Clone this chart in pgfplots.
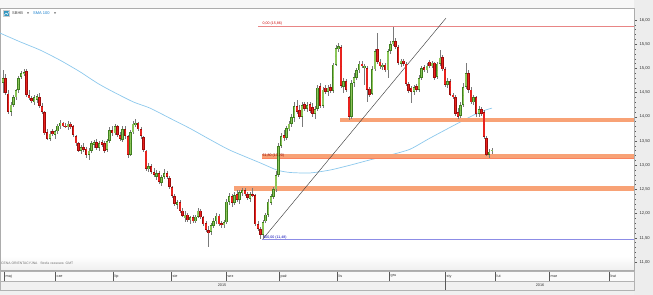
\documentclass[border=0pt]{standalone}
\usepackage{fontspec}
\setmainfont{Liberation Sans}
\usepackage{pgfplots}
\usepackage{pgfplotstable}
\pgfplotsset{compat=1.18}
\definecolor{upfill}{HTML}{8CC65A}
\definecolor{upedge}{HTML}{3F7F1F}
\definecolor{dnfill}{HTML}{E8231E}
\definecolor{dnedge}{HTML}{9E0B0B}
\definecolor{wick}{HTML}{7A7A7A}
\definecolor{sma}{HTML}{8CC8EC}
\definecolor{band}{HTML}{F8A276}
\definecolor{lvred}{HTML}{E88585}
\definecolor{lvblue}{HTML}{8C8CE6}
\pgfplotsset{candle/.style={only marks, mark=none, mark size=0pt, mark options={draw=none, fill=none}}}
\pgfplotstableread{
x O H L C
3.0 14.70 14.97 14.49 14.80
5.6 14.80 14.88 14.45 14.50
8.2 14.48 14.55 14.05 14.10
10.8 14.10 14.30 14.02 14.25
13.4 14.25 14.45 14.20 14.40
16.0 14.40 14.58 14.35 14.55
18.6 14.55 14.85 14.50 14.80
21.2 14.82 14.95 14.78 14.90
23.8 14.88 14.99 14.85 14.93
26.4 14.95 14.98 14.40 14.45
29.0 14.45 14.55 14.35 14.38
31.6 14.38 14.42 14.28 14.32
34.2 14.30 14.45 14.25 14.40
36.8 14.35 14.48 14.28 14.42
39.4 14.40 14.50 14.18 14.22
42.0 14.22 14.28 14.05 14.10
44.6 14.10 14.12 13.62 13.66
47.2 13.68 13.75 13.52 13.55
49.8 13.55 13.70 13.50 13.65
52.4 13.70 13.75 13.60 13.64
55.0 13.62 13.72 13.55 13.70
57.6 13.70 13.85 13.65 13.82
60.2 13.80 13.93 13.75 13.88
62.8 13.88 13.90 13.78 13.80
65.4 13.82 13.87 13.76 13.79
68.0 13.78 13.92 13.72 13.86
70.6 13.86 13.89 13.75 13.78
73.2 13.80 13.84 13.58 13.62
75.8 13.60 13.62 13.40 13.45
78.4 13.45 13.48 13.28 13.30
81.0 13.30 13.42 13.24 13.38
83.6 13.38 13.45 13.28 13.32
86.2 13.34 13.38 13.15 13.22
88.8 13.22 13.35 13.10 13.30
91.4 13.30 13.50 13.26 13.46
94.0 13.42 13.52 13.35 13.48
96.6 13.48 13.55 13.32 13.36
99.2 13.36 13.50 13.30 13.45
101.8 13.48 13.52 13.38 13.42
104.4 13.46 13.50 13.25 13.30
107.0 13.32 13.55 13.28 13.50
109.6 13.50 13.78 13.45 13.72
112.2 13.72 13.80 13.60 13.66
114.8 13.66 13.85 13.62 13.80
117.4 13.80 13.84 13.58 13.62
120.0 13.62 13.68 13.50 13.55
122.6 13.52 13.80 13.48 13.75
125.2 13.75 13.80 13.55 13.60
127.8 13.60 13.62 13.15 13.22
130.4 13.22 13.72 13.18 13.68
133.0 13.68 13.92 13.64 13.86
135.6 13.84 13.96 13.78 13.88
138.2 13.88 13.90 13.70 13.74
140.8 13.74 13.78 13.55 13.60
143.4 13.58 13.60 13.28 13.32
146.0 13.30 13.32 12.88 12.92
148.6 12.92 13.05 12.85 12.98
151.2 12.98 13.02 12.82 12.86
153.8 12.86 12.95 12.75 12.80
156.4 12.76 12.90 12.70 12.84
159.0 12.84 12.88 12.62 12.66
161.6 12.64 12.80 12.58 12.76
164.2 12.76 12.92 12.72 12.84
166.8 12.84 12.88 12.72 12.76
169.4 12.74 12.78 12.50 12.55
172.0 12.55 12.58 12.32 12.36
174.6 12.36 12.40 12.16 12.20
177.2 12.18 12.28 12.10 12.24
179.8 12.24 12.28 12.02 12.06
182.4 12.06 12.12 11.92 11.96
185.0 11.90 12.05 11.82 11.98
187.6 11.98 12.02 11.82 11.86
190.2 11.86 11.96 11.78 11.92
192.8 11.92 11.98 11.80 11.84
195.4 11.84 11.98 11.80 11.94
198.0 11.94 12.12 11.90 12.06
200.6 12.06 12.10 11.88 11.92
203.2 11.92 11.96 11.74 11.78
205.8 11.80 11.84 11.62 11.66
208.4 11.66 11.74 11.31 11.60
211.0 11.62 11.80 11.55 11.76
213.6 11.74 11.90 11.70 11.84
216.2 11.84 12.02 11.78 11.96
218.8 11.96 12.00 11.74 11.78
221.4 11.80 11.85 11.70 11.76
224.0 11.76 11.86 11.70 11.82
226.6 11.82 12.30 11.78 12.25
229.2 12.24 12.42 12.18 12.36
231.8 12.36 12.40 12.14 12.22
234.4 12.22 12.45 12.18 12.38
237.0 12.40 12.48 12.24 12.28
239.6 12.28 12.48 12.20 12.44
242.2 12.42 12.53 12.36 12.48
244.8 12.48 12.53 12.36 12.40
247.4 12.40 12.45 12.28 12.32
250.0 12.30 12.45 12.24 12.40
252.6 12.40 12.53 12.34 12.38
255.2 12.38 12.40 11.74 11.78
257.8 11.78 11.84 11.64 11.68
260.4 11.68 11.72 11.48 11.56
263.0 11.56 11.86 11.48 11.82
265.6 11.84 12.02 11.80 11.98
268.2 11.98 12.30 11.94 12.25
270.8 12.22 12.40 12.18 12.36
273.4 12.34 12.56 12.30 12.50
276.0 12.50 12.88 12.45 12.80
278.6 12.80 13.45 12.76 13.40
281.2 13.40 13.66 13.36 13.60
283.8 13.62 13.72 13.50 13.56
286.4 13.56 13.80 13.52 13.76
289.0 13.74 13.92 13.70 13.86
291.6 13.86 14.06 13.78 14.00
294.2 13.98 14.30 13.90 14.22
296.8 14.22 14.35 14.05 14.10
299.4 14.14 14.25 13.95 14.00
302.0 14.00 14.30 13.78 14.24
304.6 14.26 14.30 14.12 14.16
307.2 14.16 14.30 14.10 14.24
309.8 14.26 14.30 14.08 14.12
312.4 14.20 14.28 14.00 14.06
315.0 14.06 14.22 13.95 14.16
317.6 14.16 14.66 14.12 14.60
320.2 14.64 14.70 14.18 14.22
322.8 14.22 14.62 14.18 14.56
325.4 14.60 14.66 14.48 14.52
328.0 14.52 14.66 14.44 14.60
330.6 14.62 14.68 14.50 14.54
333.2 14.54 15.12 14.50 15.08
335.8 15.08 15.48 15.04 15.42
338.4 15.40 15.52 15.34 15.46
341.0 15.44 15.48 14.60 14.64
343.6 14.62 14.80 14.50 14.74
346.2 14.74 14.78 14.52 14.56
348.8 14.40 14.42 13.93 14.00
351.4 14.00 14.76 13.96 14.70
354.0 14.70 14.90 14.62 14.82
356.6 14.80 15.00 14.76 14.96
359.2 14.96 15.15 14.90 15.10
361.8 15.10 15.16 15.00 15.04
364.4 15.00 15.10 14.66 15.06
367.0 15.00 15.04 14.30 14.55
369.6 14.58 14.62 14.40 14.46
372.2 14.48 15.05 14.45 14.98
374.8 14.98 15.40 14.94 15.36
377.4 15.40 15.73 15.10 15.14
380.0 15.14 15.20 14.98 15.04
382.6 15.02 15.12 14.96 15.08
385.2 15.08 15.12 14.92 14.96
387.8 14.96 15.40 14.80 15.36
390.4 15.36 15.56 15.30 15.50
393.0 15.50 15.86 15.46 15.56
395.6 15.56 15.62 15.40 15.44
398.2 15.44 15.48 15.08 15.12
400.8 15.10 15.20 15.02 15.16
403.4 15.16 15.20 15.06 15.10
406.0 15.10 15.14 14.64 14.68
408.6 14.68 14.72 14.50 14.54
411.2 14.60 14.64 14.29 14.52
413.8 14.52 14.66 14.46 14.62
416.4 14.64 14.68 14.52 14.56
419.0 14.56 14.86 14.52 14.80
421.6 14.80 15.05 14.76 15.00
424.2 15.02 15.08 14.92 14.96
426.8 14.96 15.12 14.90 15.06
429.4 15.14 15.18 15.00 15.04
432.0 15.04 15.16 15.00 15.12
434.6 15.12 15.14 14.76 14.80
437.2 14.82 15.14 14.78 15.10
439.8 15.10 15.38 15.06 15.22
442.4 15.24 15.28 14.94 14.98
445.0 14.98 15.02 14.62 14.66
447.6 14.66 14.80 14.60 14.74
450.2 14.74 14.78 14.42 14.46
452.8 14.46 14.50 14.36 14.40
455.4 14.40 14.45 14.02 14.06
458.0 14.10 14.18 13.96 14.00
460.6 14.02 14.30 13.98 14.24
463.2 14.24 14.70 14.20 14.62
465.8 14.62 15.12 14.58 14.90
468.4 14.90 14.96 14.50 14.56
471.0 14.56 14.62 14.26 14.30
473.6 14.30 14.46 14.24 14.40
476.2 14.40 14.44 14.00 14.06
478.8 14.06 14.22 14.00 14.16
481.4 14.16 14.20 14.02 14.06
484.0 14.10 14.14 13.54 13.58
486.6 13.56 13.60 13.18 13.22
489.2 13.22 13.34 13.15 13.28
491.8 13.30 13.36 13.24 13.31
}\candles
\begin{document}
\begin{tikzpicture}
\useasboundingbox (0,-25bp) rectangle (653bp,270bp);
% backgrounds
\fill[gray!14] (634bp,-25bp) rectangle (653bp,270bp);
\fill[gray!12] (0,-25bp) rectangle (634bp,0);
\fill[gray!6] (0,262bp) rectangle (634bp,270bp);
\shade[top color=white, bottom color=gray!12] (0,0) rectangle (634bp,14bp);
\begin{axis}[
  at={(0,0)}, anchor=south west,
  scale only axis, width=634bp, height=262bp,
  xmin=0, xmax=634, ymin=10.835, ymax=16.248,
  axis line style={gray!65},
  xtick=\empty,
  ytick={11,11.5,12,12.5,13,13.5,14,14.5,15,15.5,16},
  minor y tick num=4,
  ytick pos=right, yticklabel pos=right,
  tick align=outside,
  major tick length=3bp, minor tick length=1.6bp,
  tick style={gray!70!black, line width=0.4bp},
  scaled y ticks=false,
  /pgf/number format/assume math mode=true,
  yticklabel style={font=\fontsize{4.2}{4.2}\selectfont, text=black!80, xshift=-1bp,
    /pgf/number format/.cd, fixed, fixed zerofill, precision=2, use comma},
  clip=true,
]
% SMA 100
\addplot[sma, line width=0.7bp, smooth, tension=0.4] coordinates {
(0,15.73)(20,15.55)(40,15.38)(60,15.17)(80,14.93)(97,14.70)(110,14.55)(133,14.31)
(150,14.18)(170,13.97)(190,13.76)(210,13.53)(230,13.31)(260,13.05)(277,12.90)
(290,12.85)(310,12.84)(330,12.90)(350,13.00)(370,13.11)(390,13.21)(410,13.33)
(430,13.56)(460,13.89)(480,14.10)(492,14.18)};
% levels
\addplot[lvred, line width=0.8bp] coordinates {(258,15.86) (634,15.86)};
\addplot[band, line width=4.2bp] coordinates {(340,13.93) (634,13.93)};
\addplot[band, line width=4.2bp] coordinates {(262,13.19) (634,13.19)};
\addplot[band!80!red, line width=0.6bp] coordinates {(262,13.145) (634,13.145)};
\addplot[band, line width=4.2bp] coordinates {(234,12.52) (634,12.52)};
\addplot[lvblue, line width=0.8bp] coordinates {(262,11.475) (634,11.475)};
% trend line
\addplot[black!75, line width=0.45bp] coordinates {(263,11.48) (446,16.04)};
% wicks
\addplot[candle, error bars/.cd, y dir=both, y explicit, error mark=none,
  error bar style={line width=0.55bp, wick}]
  table[x=x, y expr={(\thisrow{H}+\thisrow{L})/2}, y error expr={(\thisrow{H}-\thisrow{L})/2}] {\candles};
% up bodies
\addplot[candle, unbounded coords=discard, error bars/.cd, y dir=both, y explicit, error mark=none,
  error bar style={line width=2.5bp, upedge}]
  table[x expr={\thisrow{C}<\thisrow{O} ? nan : \thisrow{x}}, y expr={(\thisrow{O}+\thisrow{C})/2},
        y error expr={max(abs(\thisrow{C}-\thisrow{O})/2,0.012)}] {\candles};
\addplot[candle, unbounded coords=discard, error bars/.cd, y dir=both, y explicit, error mark=none,
  error bar style={line width=1.4bp, upfill}]
  table[x expr={\thisrow{C}<\thisrow{O} ? nan : \thisrow{x}}, y expr={(\thisrow{O}+\thisrow{C})/2},
        y error expr={max(abs(\thisrow{C}-\thisrow{O})/2-0.015,0.004)}] {\candles};
% down bodies
\addplot[candle, unbounded coords=discard, error bars/.cd, y dir=both, y explicit, error mark=none,
  error bar style={line width=2.5bp, dnedge}]
  table[x expr={\thisrow{C}<\thisrow{O} ? \thisrow{x} : nan}, y expr={(\thisrow{O}+\thisrow{C})/2},
        y error expr={max(abs(\thisrow{C}-\thisrow{O})/2,0.012)}] {\candles};
\addplot[candle, unbounded coords=discard, error bars/.cd, y dir=both, y explicit, error mark=none,
  error bar style={line width=1.4bp, dnfill}]
  table[x expr={\thisrow{C}<\thisrow{O} ? \thisrow{x} : nan}, y expr={(\thisrow{O}+\thisrow{C})/2},
        y error expr={max(abs(\thisrow{C}-\thisrow{O})/2-0.015,0.004)}] {\candles};
% level labels
\node[anchor=south west, inner sep=0.5bp, text=red!80!black, font=\fontsize{3.6}{4}\selectfont] at (axis cs:262,15.875) {0,00 (15,86)};
\node[anchor=west, inner sep=0.5bp, text=red!55!black, font=\fontsize{3.6}{4}\selectfont] at (axis cs:262,13.19) {61,80 (13,20)};
\node[anchor=south west, inner sep=0.3bp, text=blue!70!black, font=\fontsize{3.6}{4}\selectfont] at (axis cs:263,11.46) {100,00 (11,48)};
\end{axis}
% legend
\fill[gray!40] (3bp,253bp) rectangle (10bp,260bp);
\fill[cyan!50!teal] (3.8bp,253.8bp) rectangle (9.2bp,259.2bp);
\draw[white, line width=0.4bp] (4bp,254.5bp) -- (6bp,257bp) -- (7.5bp,255.5bp) -- (9bp,258.5bp);
\node[anchor=west, inner sep=0pt, font=\fontsize{4}{4}\selectfont, text=black!75] at (12bp,256.5bp) {SBHB};
\fill[black!70] (27bp,257.6bp) -- (29bp,257.6bp) -- (28bp,256.2bp) -- cycle;
\node[anchor=west, inner sep=0pt, font=\fontsize{4}{4}\selectfont, text=cyan!60!blue] at (33bp,256.5bp) {SMA 100};
\fill[black!70] (54bp,257.6bp) -- (56bp,257.6bp) -- (55bp,256.2bp) -- cycle;
\node[anchor=west, inner sep=0pt, font=\fontsize{3.4}{4}\selectfont, text=black!55] at (1bp,7bp) {CENA ORIENTACYJNA \ \ Strefa czasowa: GMT};
% date axis
\draw[gray!60, fill=gray!4, line width=0.4bp] (0,-1.5bp) rectangle (634bp,-11bp);
\draw[gray!60, fill=gray!12, line width=0.4bp] (0,-11bp) rectangle (634bp,-20bp);
\foreach \p/\m in {4/maj,55/cze,113/lip,171/sie,226/wrz,279/paź,337/lis,389/gru,445/sty,495/lut,549/mar,609/kwi}{
  \draw[gray!70!black, line width=0.4bp] (\p bp,-1.5bp) -- (\p bp,-11bp);
  \node[anchor=west, inner sep=0pt, font=\fontsize{3.8}{4}\selectfont, text=black!80] at (\p bp+1.5bp,-6.3bp) {\m};
}
\draw[gray!70!black, line width=0.4bp] (445bp,-11bp) -- (445bp,-20bp);
\node[inner sep=0pt, font=\fontsize{3.8}{4}\selectfont, text=black!80] at (222bp,-15.5bp) {2015};
\node[inner sep=0pt, font=\fontsize{3.8}{4}\selectfont, text=black!80] at (540bp,-15.5bp) {2016};
\end{tikzpicture}
\end{document}
